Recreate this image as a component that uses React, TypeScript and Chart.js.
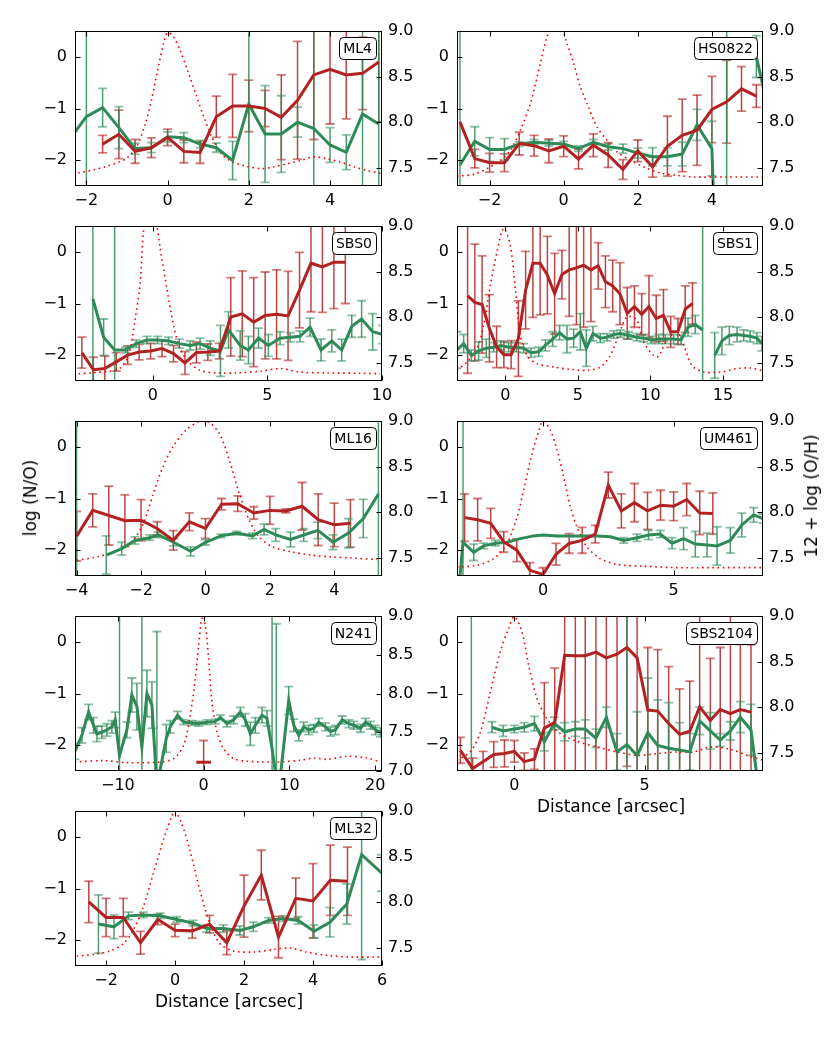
import React, { useEffect, useRef } from 'react';
import { Chart, registerables } from 'chart.js';
Chart.register(...registerables);

const FONT = '"DejaVu Sans", "Liberation Sans", sans-serif';
const RED = '#b22222';
const GREEN = '#2e8b57';
const DOT = '#ff0000';

// ---------- tick labels ----------
const noTicks = [-2, -1, 0];
const ohTicks = [7.5, 8.0, 8.5, 9.0];
const ohTicksN241 = [7.0, 7.5, 8.0, 8.5, 9.0];
const ml4XTicks = [-2, 0, 2, 4];
const hsXTicks = [-2, 0, 2, 4];
const sbs0XTicks = [0, 5, 10];
const sbs1XTicks = [0, 5, 10, 15];
const ml16XTicks = [-4, -2, 0, 2, 4];
const umXTicks = [0, 5];
const n241XTicks = [-10, 0, 10, 20];
const sbs2104XTicks = [0, 5];
const ml32XTicks = [-2, 0, 2, 4, 6];

// ---------- ML4 ----------
const ml4RedX = [-1.6, -1.2, -0.8, -0.4, 0, 0.4, 0.8, 1.2, 1.6, 2.0, 2.4, 2.8, 3.2, 3.6, 4.0, 4.4, 4.8, 5.2];
const ml4RedY = [-1.69, -1.5, -1.83, -1.76, -1.56, -1.83, -1.85, -1.16, -0.95, -0.95, -1.0, -1.17, -0.84, -0.35, -0.24, -0.35, -0.32, -0.1];
const ml4RedErr = [0.17, 0.47, 0.23, 0.19, 0.16, 0.22, 0.21, 0.4, 0.61, 0.5, 0.35, 0.82, 1.14, 1.25, 1.06, 0.85, 0.7, 1.16];
const ml4GreenX = [-2.4, -2.0, -1.6, -1.2, -0.8, -0.4, 0, 0.4, 0.8, 1.2, 1.6, 2.0, 2.4, 2.8, 3.2, 3.6, 4.0, 4.4, 4.8, 5.2];
const ml4GreenY = [7.82, 8.06, 8.16, 7.94, 7.71, 7.72, 7.84, 7.83, 7.76, 7.72, 7.58, 8.2, 7.87, 7.87, 8.0, 7.93, 7.75, 7.67, 8.09, 7.98];
const ml4GreenErr = [0.1, 2, 0.21, 0.23, 0.06, 0.055, 0.055, 0.055, 0.04, 0.05, 0.21, 2, 0.53, 0.42, 0.165, 2, 0.19, 0.19, 2, 2];
const ml4ProfX = [-2.2, -1.8, -1.5, -1.2, -1.0, -0.75, -0.55, -0.4, -0.25, -0.1, 0, 0.15, 0.3, 0.5, 0.7, 0.9, 1.1, 1.35, 1.6, 1.95, 2.3, 2.6, 2.95, 3.3, 3.6, 3.9, 4.25, 4.6, 4.9, 5.25];
const ml4ProfY = [0.084, 0.106, 0.127, 0.155, 0.18, 0.26, 0.4, 0.55, 0.74, 0.92, 0.99, 0.96, 0.88, 0.74, 0.59, 0.44, 0.31, 0.2, 0.155, 0.127, 0.112, 0.123, 0.144, 0.166, 0.188, 0.177, 0.155, 0.123, 0.101, 0.08];

// ---------- HS0822 ----------
const hsRedX = [-2.8, -2.4, -2.0, -1.6, -1.2, -0.8, -0.4, 0, 0.4, 0.8, 1.2, 1.6, 2.0, 2.4, 2.8, 3.2, 3.6, 4.0, 4.4, 4.8, 5.2];
const hsRedY = [-1.26, -1.97, -2.05, -2.05, -1.68, -1.72, -1.82, -1.73, -1.98, -1.71, -1.9, -2.18, -1.82, -2.13, -1.73, -1.52, -1.42, -1.02, -0.87, -0.62, -0.76];
const hsRedErr = [0, 0.18, 0.18, 0.17, 0.22, 0.2, 0.23, 0.2, 0.19, 0.22, 0.24, 0.19, 0.21, 0.2, 0.58, 0.7, 0.68, 0.64, 0.8, 0.43, 0.22];
const hsGreenX = [-2.8, -2.4, -2.0, -1.6, -1.2, -0.8, -0.4, 0, 0.4, 0.8, 1.2, 1.6, 2.0, 2.4, 2.8, 3.2, 3.6, 4.0, 4.4, 4.8, 5.2, 5.6];
const hsGreenY = [7.53, 7.79, 7.7, 7.7, 7.76, 7.78, 7.77, 7.76, 7.71, 7.78, 7.73, 7.71, 7.66, 7.62, 7.62, 7.65, 7.97, 7.71, 3.0, null, 8.72, 8.0];
const hsGreenErr = [2, 0.16, 0.13, 0.12, 0.025, 0.03, 0.03, 0.03, 0.03, 0.03, 0.035, 0.05, 0.055, 0.1, 0.1, 0.13, 0.17, 0.3, 6, 0, 0.23, 0];
const hsProfX = [-2.88, -2.43, -2.07, -1.71, -1.44, -1.17, -0.9, -0.63, -0.45, -0.27, -0.09, 0.09, 0.27, 0.45, 0.63, 0.9, 1.17, 1.44, 1.8, 2.16, 2.61, 3.06, 3.51, 4.41, 5.38];
const hsProfY = [0.063, 0.075, 0.112, 0.166, 0.23, 0.36, 0.532, 0.791, 0.963, 1.05, 1.04, 0.92, 0.79, 0.64, 0.532, 0.381, 0.295, 0.22, 0.166, 0.123, 0.084, 0.069, 0.058, 0.058, 0.058];

// ---------- SBS0 ----------
const sbs0RedX = [-3.1, -2.6, -2.1, -1.6, -1.1, -0.6, -0.1, 0.4, 0.9, 1.4, 1.9, 2.4, 2.9, 3.4, 3.9, 4.4, 4.9, 5.4, 5.9, 6.4, 6.9, 7.4, 7.9, 8.4];
const sbs0RedY = [-1.95, -2.28, -2.26, -2.13, -2.0, -1.94, -1.92, -1.87, -1.97, -2.15, -1.95, -1.94, -1.92, -1.26, -1.2, -1.36, -1.23, -1.21, -1.24, -0.74, -0.22, -0.29, -0.2, -0.2];
const sbs0RedErr = [0.3, 0.24, 0.24, 0.18, 0.18, 0.15, 0.15, 0.16, 0.16, 0.22, 0.2, 0.16, 0.15, 0.76, 0.83, 0.86, 0.84, 0.86, 0.86, 0.73, 0.94, 0.88, 0.9, 0.8];
const sbs0GreenX = [-2.62, -2.15, -1.67, -1.19, -0.73, -0.26, 0.2, 0.68, 1.15, 1.63, 2.06, 2.5, 2.95, 3.3, 3.81, 4.17, 4.61, 5.04, 5.55, 5.99, 6.42, 6.86, 7.34, 7.81, 8.24, 8.68, 9.11, 9.59, 10.03];
const sbs0GreenY = [8.2, 7.78, 7.64, 7.64, 7.71, 7.75, 7.75, 7.74, 7.71, 7.69, 7.71, 7.66, 7.63, 7.86, 7.69, 7.64, 7.77, 7.69, 7.77, 7.78, 7.79, 7.89, 7.64, 7.74, 7.64, 7.9, 7.98, 7.84, 7.81];
const sbs0GreenErr = [2, 0.2, 2, 0.03, 0.04, 0.04, 0.04, 0.04, 0.05, 0.05, 0.06, 0.08, 0.28, 0.2, 0.16, 0.15, 0.11, 0.12, 0.07, 0.05, 0.06, 0.1, 0.12, 0.12, 0.12, 0.12, 0.2, 0.2, 0.1];
const sbs0ProfX = [-3.24, -2.59, -1.86, -1.42, -1.06, -0.77, -0.55, -0.4, -0.15, 0.17, 0.32, 0.61, 0.9, 1.19, 1.56, 2.06, 2.79, 3.66, 4.68, 5.55, 6.42, 7.59, 9.04, 9.91];
const sbs0ProfY = [0.047, 0.054, 0.063, 0.084, 0.166, 0.403, 0.64, 0.98, 1.15, 1.0, 0.855, 0.597, 0.36, 0.209, 0.123, 0.069, 0.052, 0.052, 0.063, 0.08, 0.058, 0.052, 0.05, 0.047];

// ---------- SBS1 ----------
const sbs1RedX = [-2.6, -2.1, -1.6, -1.1, -0.6, -0.1, 0.4, 0.9, 1.4, 1.9, 2.4, 2.9, 3.4, 3.9, 4.4, 4.9, 5.4, 5.9, 6.4, 6.9, 7.4, 7.9, 8.4, 8.9, 9.4, 9.9, 10.4, 10.9, 11.4, 11.9, 12.4, 12.9];
const sbs1RedY = [-0.85, -0.98, -1.02, -1.48, -1.84, -1.99, -1.99, -1.68, -0.74, -0.22, -0.22, -0.45, -0.81, -0.44, -0.35, -0.31, -0.26, -0.35, -0.27, -0.58, -0.66, -0.81, -1.19, -1.06, -1.21, -1.06, -1.29, -1.23, -1.55, -1.54, -1.11, -1.0];
const sbs1RedErr = [1.5, 1.13, 0.94, 0.65, 0.4, 0.25, 0.27, 0.73, 0.75, 1.05, 1.0, 0.75, 0.78, 0.47, 0.9, 1.1, 1.2, 1.0, 0.45, 0.5, 0.5, 0.6, 0.5, 0.4, 0.4, 0.6, 0.45, 0.5, 0.3, 0.25, 0.45, 0.4];
const sbs1GreenX = [-3.33, -2.87, -2.34, -1.84, -1.31, -0.8, -0.3, 0.23, 0.76, 1.26, 1.77, 2.3, 2.76, 3.26, 3.74, 4.25, 4.71, 5.17, 5.58, 6.04, 6.55, 7.01, 7.47, 7.93, 8.5, 9.07, 9.53, 10.04, 10.57, 11.03, 11.6, 12.11, 12.59, 13.09, 13.6, 14.0, 14.43, 14.93, 15.44, 15.97, 16.43, 16.88, 17.34, 17.69];
const sbs1GreenY = [7.64, 7.71, 7.58, 7.63, 7.66, 7.67, 7.69, 7.67, 7.67, 7.66, 7.61, 7.62, 7.69, 7.76, 7.83, 7.76, 7.77, 7.84, 7.66, 7.82, 7.77, 7.78, 7.81, 7.82, 7.8, 7.78, 7.77, 7.75, 7.76, 7.76, 7.76, 7.75, 7.89, 7.92, 7.86, null, 7.58, 7.74, 7.8, 7.81, 7.8, 7.79, 7.77, 7.71];
const sbs1GreenErr = [0.2, 0.1, 0.06, 0.1, 0.1, 0.05, 0.05, 0.05, 0.05, 0.05, 0.05, 0.05, 0.06, 0.08, 0.08, 0.15, 0.1, 0.2, 0.2, 0.08, 0.05, 0.04, 0.04, 0.04, 0.04, 0.04, 0.04, 0.04, 0.05, 0.05, 0.05, 0.05, 0.1, 0.1, 3, 0, 0.25, 0.15, 0.1, 0.08, 0.06, 0.06, 0.06, 0.08];
const sbs1ProfX = [-3.33, -2.64, -1.95, -1.49, -1.03, -0.57, -0.11, 0.34, 0.69, 1.03, 1.49, 2.18, 3.33, 4.48, 5.63, 6.55, 7.24, 7.81, 8.39, 9.07, 9.53, 10.45, 11.14, 11.83, 12.29, 12.86, 13.67, 14.82, 15.97, 16.88, 17.76];
const sbs1ProfY = [0.069, 0.123, 0.209, 0.36, 0.619, 0.834, 0.985, 0.877, 0.597, 0.295, 0.166, 0.112, 0.09, 0.075, 0.069, 0.09, 0.166, 0.295, 0.414, 0.392, 0.252, 0.155, 0.263, 0.317, 0.231, 0.101, 0.058, 0.058, 0.08, 0.084, 0.065];

// ---------- ML16 ----------
const ml16RedX = [-4, -3.5, -3, -2.5, -2, -1.5, -1, -0.5, 0, 0.5, 1, 1.5, 2, 2.5, 3, 3.5, 4, 4.5];
const ml16RedY = [-1.73, -1.23, -1.33, -1.43, -1.42, -1.58, -1.81, -1.45, -1.58, -1.11, -1.1, -1.28, -1.23, -1.24, -1.15, -1.41, -1.51, -1.48];
const ml16RedErr = [0.48, 0.32, 0.57, 0.5, 0.4, 0.13, 0.19, 0.17, 0.19, 0.11, 0.15, 0.12, 0.27, 0.04, 0.46, 0.5, 0.42, 0.46];
const ml16GreenX = [-4.0, -3.5, -3.08, -2.6, -2.19, -1.73, -1.47, -0.99, -0.46, 0, 0.48, 0.97, 1.46, 1.82, 2.18, 2.64, 3.05, 3.49, 3.96, 4.44, 4.9, 5.37];
const ml16GreenY = [5.0, null, 7.53, 7.6, 7.69, 7.72, 7.75, 7.67, 7.57, 7.67, 7.74, 7.77, 7.74, 7.81, 7.75, 7.7, 7.75, 7.8, 7.67, 7.77, 7.93, 8.2];
const ml16GreenErr = [4, 0, 0.21, 0.07, 0.04, 0.03, 0.03, 0.04, 0.05, 0.03, 0.02, 0.02, 0.03, 0.06, 0.07, 0.08, 0.07, 0.09, 0.08, 0.16, 0.21, 2];
const ml16ProfX = [-3.99, -3.37, -2.86, -2.34, -1.93, -1.62, -1.32, -1.01, -0.6, -0.19, 0.12, 0.43, 0.74, 1.05, 1.36, 1.67, 2.08, 2.69, 3.31, 3.93, 4.54, 5.32];
const ml16ProfY = [0.101, 0.123, 0.155, 0.209, 0.338, 0.532, 0.705, 0.834, 0.942, 0.996, 0.989, 0.92, 0.748, 0.532, 0.36, 0.252, 0.188, 0.155, 0.134, 0.123, 0.116, 0.106];

// ---------- UM461 ----------
const umRedX = [-3, -2.5, -2, -1.5, -1, -0.5, 0, 0.5, 1, 1.5, 2, 2.5, 3, 3.5, 4, 4.5, 5, 5.5, 6, 6.5];
const umRedY = [-1.37, -1.41, -1.48, -1.84, -2.0, -2.39, -2.47, -2.08, -1.87, -1.81, -1.69, -0.74, -1.24, -1.08, -1.24, -1.13, -1.15, -1.02, -1.28, -1.29];
const umRedErr = [0.46, 0.41, 0.29, 0.2, 0.22, 0.15, 0.13, 0.21, 0.19, 0.25, 0.17, 0.25, 0.33, 0.37, 0.36, 0.29, 0.28, 0.31, 0.42, 0.4];
const umGreenX = [-3.3, -3.06, -2.65, -2.27, -1.82, -1.38, -0.87, -0.36, 0, 0.54, 1.05, 1.56, 2.07, 2.58, 3.09, 3.6, 4.04, 4.49, 4.94, 5.38, 5.83, 6.28, 6.66, 7.17, 7.61, 8.06, 8.42];
const umGreenY = [6.9, 7.67, 7.56, 7.63, 7.66, 7.67, 7.71, 7.74, 7.75, 7.74, 7.74, 7.74, 7.74, 7.73, 7.69, 7.72, 7.75, 7.76, 7.66, 7.71, 7.65, 7.64, 7.63, 7.69, 7.86, 7.97, 7.93];
const umGreenErr = [0, 2, 0.09, 0.03, 0.03, 0, 0, 0, 0, 0, 0, 0, 0, 0, 0.03, 0.04, 0.05, 0.04, 0.06, 0.12, 0.14, 0.13, 0.21, 0.14, 0.13, 0.08, 0.05];
const umProfX = [-3.29, -2.53, -1.89, -1.38, -0.99, -0.74, -0.48, -0.23, 0, 0.28, 0.54, 0.79, 1.05, 1.3, 1.68, 2.19, 2.83, 3.85, 5.13, 6.4, 8.42];
const umProfY = [0.058, 0.069, 0.112, 0.209, 0.381, 0.554, 0.748, 0.899, 1.0, 0.942, 0.812, 0.64, 0.446, 0.317, 0.188, 0.112, 0.075, 0.063, 0.054, 0.054, 0.054];

// ---------- N241 ----------
const n241RedX = [-0.85, 0, 0.85];
const n241RedY = [-2.33, -2.33, -2.33];
const n241RedErr = [0, 0.42, 0];
const n241GreenX = [-15.02, -14.2, -13.42, -12.84, -12.45, -11.87, -11.28, -10.7, -10.31, -9.81, -8.95, -8.37, -7.78, -7.2, -6.61, -6.03, -5.45, -4.36, -3.89, -3.04, -2.33, -1.36, -0.58, 0.39, 1.36, 1.95, 2.72, 3.5, 4.28, 4.86, 5.45, 6.03, 6.81, 7.39, 7.98, 8.48, 8.95, 9.92, 10.51, 11.09, 11.67, 12.26, 12.84, 13.42, 14.2, 14.79, 15.37, 16.15, 16.93, 17.51, 18.29, 18.87, 19.46, 20.04, 20.62];
const n241GreenY = [7.25, 7.46, 7.76, 7.59, 7.48, 7.5, 7.53, 7.57, 7.66, 7.2, 7.53, 7.98, 7.83, 7.31, 8.0, 7.85, 6.8, 7.42, 7.57, 7.72, 7.63, 7.62, 7.61, 7.63, 7.64, 7.69, 7.61, 7.66, 7.76, 7.66, 7.48, 7.59, 7.72, 7.68, 7.29, 6.9, 6.94, 7.91, 7.59, 7.46, 7.57, 7.53, 7.55, 7.63, 7.57, 7.51, 7.53, 7.66, 7.61, 7.59, 7.55, 7.63, 7.59, 7.53, 7.5];
const n241GreenErr = [0.1, 0.1, 0.1, 0.1, 0.1, 0.08, 0.08, 0.08, 0.1, 2, 0.1, 0.22, 0.3, 2, 0.3, 0.3, 2, 0.18, 0.08, 0.05, 0.03, 0.03, 0.03, 0.03, 0.03, 0.03, 0.04, 0.05, 0.06, 0.08, 0.15, 0.1, 0.1, 0.1, 2, 2, 0, 0.18, 0.08, 0.07, 0.06, 0.06, 0.05, 0.05, 0.05, 0.06, 0.06, 0.05, 0.05, 0.05, 0.05, 0.05, 0.05, 0.06, 0.06];
const n241ProfX = [-15.02, -11.67, -8.95, -5.06, -3.5, -2.33, -1.56, -0.97, -0.58, -0.19, 0.19, 0.58, 0.97, 1.56, 2.33, 3.5, 5.06, 8.56, 11.28, 12.84, 14.4, 16.73, 19.07, 20.62];
const n241ProfY = [0.058, 0.067, 0.054, 0.058, 0.08, 0.166, 0.36, 0.597, 0.812, 0.985, 0.942, 0.726, 0.446, 0.252, 0.144, 0.08, 0.063, 0.058, 0.069, 0.084, 0.075, 0.095, 0.084, 0.058];

// ---------- SBS2104 ----------
const sbs2104RedX = [-2.07, -1.6, -1.2, -0.79, -0.38, 0, 0.38, 0.77, 1.15, 1.55, 1.93, 2.34, 2.72, 3.13, 3.53, 3.94, 4.32, 4.71, 5.12, 5.5, 5.92, 6.34, 6.73, 7.11, 7.52, 7.9, 8.29, 8.67, 9.08];
const sbs2104RedY = [-2.1, -2.45, -2.32, -2.18, -2.16, -2.12, -2.32, -2.27, -1.67, -1.56, -0.26, -0.27, -0.27, -0.2, -0.31, -0.24, -0.11, -0.31, -1.32, -1.34, -1.58, -1.79, -1.73, -1.26, -1.52, -1.31, -1.39, -1.31, -1.36];
const sbs2104RedErr = [0.25, 0.2, 0.2, 0.25, 0.26, 0.21, 0.17, 0.2, 0.88, 1.05, 2.3, 2.3, 2.3, 2.3, 2.3, 2.3, 2.3, 2.3, 1.21, 1.19, 1.1, 0.88, 0.97, 1.8, 1.2, 1.2, 1.9, 1.26, 1.3];
const sbs2104GreenX = [-1.65, -1.25, -0.86, -0.43, 0, 0.38, 0.77, 1.15, 1.53, 1.93, 2.34, 2.72, 3.13, 3.53, 3.94, 4.32, 4.71, 5.12, 5.5, 5.92, 6.34, 6.73, 7.11, 7.52, 7.9, 8.29, 8.67, 9.08, 9.37];
const sbs2104GreenY = [5.0, null, 7.78, 7.74, 7.76, 7.78, 7.82, 7.62, 7.82, 7.73, 7.76, 7.76, 7.66, 7.89, 7.51, 7.59, 7.47, 7.72, 7.58, 7.55, 7.53, 7.51, 7.85, 7.74, 7.64, 7.74, 7.89, 7.75, 7.1];
const sbs2104GreenErr = [4, 0, 0.06, 0.06, 0.04, 0.05, 0.08, 0.1, 0.07, 0.1, 0.08, 0.1, 0.1, 0.11, 0.2, 2, 0.48, 0.6, 0.5, 0.5, 0.3, 0.2, 0.15, 0.2, 0.07, 0.1, 0.17, 0.28, 0];
const sbs2104ProfX = [-2.2, -1.69, -1.3, -0.92, -0.54, -0.22, 0, 0.29, 0.55, 0.87, 1.25, 1.76, 2.4, 3.17, 3.94, 4.71, 5.47, 6.24, 6.88, 7.52, 8.29, 8.93, 9.54];
const sbs2104ProfY = [0.069, 0.123, 0.252, 0.511, 0.769, 0.92, 0.996, 0.899, 0.683, 0.468, 0.338, 0.241, 0.192, 0.155, 0.123, 0.101, 0.112, 0.123, 0.123, 0.155, 0.14, 0.101, 0.069];

// ---------- ML32 ----------
const ml32RedX = [-2.5, -2, -1.5, -1, -0.5, 0, 0.5, 1, 1.5, 2, 2.5, 3, 3.5, 4, 4.5, 5];
const ml32RedY = [-1.26, -1.56, -1.56, -2.05, -1.6, -1.81, -1.82, -1.69, -2.05, -1.34, -0.74, -1.94, -1.19, -1.24, -0.84, -0.86];
const ml32RedErr = [0.4, 0.37, 0.37, 0.22, 0.1, 0.12, 0.14, 0.17, 0.23, 0.6, 0.48, 0.4, 0.39, 0.72, 0.68, 0.66];
const ml32GreenX = [-2.22, -1.77, -1.35, -0.92, -0.43, 0.05, 0.53, 0.92, 1.4, 1.88, 2.27, 2.71, 3.14, 3.57, 4.03, 4.49, 4.98, 5.41, 5.99];
const ml32GreenY = [7.76, 7.73, 7.85, 7.86, 7.85, 7.81, 7.77, 7.71, 7.71, 7.69, 7.73, 7.8, 7.82, 7.8, 7.68, 7.78, 7.98, 8.52, 8.32];
const ml32GreenErr = [0.32, 0.13, 0.04, 0.03, 0.03, 0.03, 0.03, 0.04, 0.04, 0.05, 0.05, 0.03, 0.03, 0.04, 0.07, 0.16, 0.22, 1.15, 0.2];
const ml32ProfX = [-2.85, -2.37, -1.88, -1.5, -1.21, -0.92, -0.63, -0.34, -0.1, 0, 0.19, 0.43, 0.72, 1.01, 1.3, 1.69, 2.27, 2.85, 3.33, 3.82, 4.4, 5.07, 5.99];
const ml32ProfY = [0.063, 0.075, 0.097, 0.144, 0.231, 0.381, 0.597, 0.812, 0.963, 1.0, 0.92, 0.748, 0.489, 0.274, 0.144, 0.097, 0.09, 0.106, 0.116, 0.09, 0.069, 0.058, 0.058];

// ---------- layout ----------
const PLOT_H = 155;
const PAD_L = 52, PAD_R = 52, PAD_T = 12, PAD_B = 28;

type Series = [number[], (number | null)[], number[]];
type PanelDef = {
  name: string; left: number; top: number; width: number;
  xMin: number; xMax: number; xTicks: number[];
  rMin: number; rTicks: number[];
  red: Series; green: Series; prof: [number[], number[]];
};

const panels: PanelDef[] = [
  { name: 'ML4', left: 75, top: 31, width: 307, xMin: -2.28, xMax: 5.28, xTicks: ml4XTicks, rMin: 7.3, rTicks: ohTicks,
    red: [ml4RedX, ml4RedY, ml4RedErr], green: [ml4GreenX, ml4GreenY, ml4GreenErr], prof: [ml4ProfX, ml4ProfY] },
  { name: 'HS0822', left: 457, top: 31, width: 306, xMin: -2.88, xMax: 5.38, xTicks: hsXTicks, rMin: 7.3, rTicks: ohTicks,
    red: [hsRedX, hsRedY, hsRedErr], green: [hsGreenX, hsGreenY, hsGreenErr], prof: [hsProfX, hsProfY] },
  { name: 'SBS0', left: 75, top: 226, width: 307, xMin: -3.4, xMax: 10.0, xTicks: sbs0XTicks, rMin: 7.3, rTicks: ohTicks,
    red: [sbs0RedX, sbs0RedY, sbs0RedErr], green: [sbs0GreenX, sbs0GreenY, sbs0GreenErr], prof: [sbs0ProfX, sbs0ProfY] },
  { name: 'SBS1', left: 457, top: 226, width: 306, xMin: -3.33, xMax: 17.76, xTicks: sbs1XTicks, rMin: 7.3, rTicks: ohTicks,
    red: [sbs1RedX, sbs1RedY, sbs1RedErr], green: [sbs1GreenX, sbs1GreenY, sbs1GreenErr], prof: [sbs1ProfX, sbs1ProfY] },
  { name: 'ML16', left: 75, top: 421, width: 307, xMin: -4.05, xMax: 5.48, xTicks: ml16XTicks, rMin: 7.3, rTicks: ohTicks,
    red: [ml16RedX, ml16RedY, ml16RedErr], green: [ml16GreenX, ml16GreenY, ml16GreenErr], prof: [ml16ProfX, ml16ProfY] },
  { name: 'UM461', left: 457, top: 421, width: 306, xMin: -3.29, xMax: 8.42, xTicks: umXTicks, rMin: 7.3, rTicks: ohTicks,
    red: [umRedX, umRedY, umRedErr], green: [umGreenX, umGreenY, umGreenErr], prof: [umProfX, umProfY] },
  { name: 'N241', left: 75, top: 616, width: 307, xMin: -15.0, xMax: 20.8, xTicks: n241XTicks, rMin: 7.0, rTicks: ohTicksN241,
    red: [n241RedX, n241RedY, n241RedErr], green: [n241GreenX, n241GreenY, n241GreenErr], prof: [n241ProfX, n241ProfY] },
  { name: 'SBS2104', left: 457, top: 616, width: 306, xMin: -2.2, xMax: 9.54, xTicks: sbs2104XTicks, rMin: 7.3, rTicks: ohTicks,
    red: [sbs2104RedX, sbs2104RedY, sbs2104RedErr], green: [sbs2104GreenX, sbs2104GreenY, sbs2104GreenErr], prof: [sbs2104ProfX, sbs2104ProfY] },
  { name: 'ML32', left: 75, top: 811, width: 307, xMin: -2.9, xMax: 6.0, xTicks: ml32XTicks, rMin: 7.3, rTicks: ohTicks,
    red: [ml32RedX, ml32RedY, ml32RedErr], green: [ml32GreenX, ml32GreenY, ml32GreenErr], prof: [ml32ProfX, ml32ProfY] },
];

const toPts = (xs: number[], ys: (number | null)[]) => xs.map((x, i) => ({ x, y: ys[i] }));
const fmtSigned = (v: number) => (v < 0 ? '\u2212' + Math.abs(v) : String(v));

const errorBarPlugin = {
  id: 'errorBars',
  beforeDatasetsDraw(chart: any) {
    const { ctx, chartArea: a } = chart;
    ctx.save();
    ctx.beginPath();
    ctx.rect(a.left, a.top, a.right - a.left, a.bottom - a.top);
    ctx.clip();
    const xs = chart.scales.x;
    chart.data.datasets.forEach((ds: any) => {
      const errs: number[] | undefined = ds.errorBars;
      if (!errs) return;
      const ys = chart.scales[ds.yAxisID];
      ds.data.forEach((p: any, i: number) => {
        const e = errs[i];
        if (!e || p.y === null || p.y === undefined) return;
        const px = xs.getPixelForValue(p.x);
        const t = ys.getPixelForValue(p.y + e);
        const b = ys.getPixelForValue(p.y - e);
        ctx.strokeStyle = ds.errColor;
        ctx.lineWidth = 1.5;
        ctx.beginPath();
        ctx.moveTo(px, t);
        ctx.lineTo(px, b);
        ctx.stroke();
        ctx.strokeStyle = ds.capColor;
        ctx.lineWidth = 1.8;
        ctx.beginPath();
        ctx.moveTo(px - 4.5, t);
        ctx.lineTo(px + 4.5, t);
        ctx.moveTo(px - 4.5, b);
        ctx.lineTo(px + 4.5, b);
        ctx.stroke();
      });
    });
    ctx.restore();
  },
};

function makeFramePlugin(label: string) {
  return {
    id: 'frame',
    afterDatasetsDraw(chart: any) {
      const { ctx, chartArea: a } = chart;
      ctx.save();
      ctx.strokeStyle = '#000';
      ctx.lineWidth = 1;
      const L = Math.round(a.left) + 0.5, R = Math.round(a.right) - 0.5;
      const T = Math.round(a.top) + 0.5, B = Math.round(a.bottom) - 0.5;
      ctx.strokeRect(L, T, R - L, B - T);
      const tl = 5;
      ctx.beginPath();
      chart.scales.x.ticks.forEach((t: any) => {
        const px = Math.round(chart.scales.x.getPixelForValue(t.value)) + 0.5;
        ctx.moveTo(px, B); ctx.lineTo(px, B - tl);
        ctx.moveTo(px, T); ctx.lineTo(px, T + tl);
      });
      chart.scales.y.ticks.forEach((t: any) => {
        const py = Math.round(chart.scales.y.getPixelForValue(t.value)) + 0.5;
        ctx.moveTo(L, py); ctx.lineTo(L + tl, py);
      });
      chart.scales.y2.ticks.forEach((t: any) => {
        const py = Math.round(chart.scales.y2.getPixelForValue(t.value)) + 0.5;
        ctx.moveTo(R, py); ctx.lineTo(R - tl, py);
      });
      ctx.stroke();
      // label box
      ctx.font = '14px ' + FONT;
      const tw = ctx.measureText(label).width;
      const bw = tw + 8, bh = 22;
      const bx = a.right - 6 - bw, by = a.top + 6;
      ctx.beginPath();
      (ctx as any).roundRect(Math.round(bx) + 0.5, Math.round(by) + 0.5, Math.round(bw), bh, 4);
      ctx.fillStyle = '#fff';
      ctx.fill();
      ctx.strokeStyle = '#000';
      ctx.lineWidth = 1;
      ctx.stroke();
      ctx.fillStyle = '#000';
      ctx.textAlign = 'center';
      ctx.textBaseline = 'middle';
      ctx.fillText(label, bx + bw / 2, by + bh / 2 + 1);
      ctx.restore();
    },
  };
}

function Panel({ p }: { p: PanelDef }) {
  const ref = useRef<HTMLCanvasElement>(null);
  const W = p.width + PAD_L + PAD_R;
  const H = PLOT_H + PAD_T + PAD_B;
  useEffect(() => {
    if (!ref.current) return;
    const tickFont = { family: FONT, size: 16 };
    const chart = new Chart(ref.current, {
      type: 'line',
      data: {
        datasets: [
          {
            data: toPts(p.red[0], p.red[1]), yAxisID: 'y', borderColor: RED, borderWidth: 3,
            pointRadius: 0, tension: 0, order: 0, clip: 0, spanGaps: false,
            errorBars: p.red[2], errColor: 'rgba(178,34,34,0.85)', capColor: 'rgba(178,34,34,0.6)',
          } as any,
          {
            data: toPts(p.green[0], p.green[1]), yAxisID: 'y2', borderColor: GREEN, borderWidth: 3,
            pointRadius: 0, tension: 0, order: 1, clip: 0, spanGaps: false,
            errorBars: p.green[2], errColor: 'rgba(46,139,87,0.85)', capColor: 'rgba(46,139,87,0.55)',
          } as any,
          {
            data: toPts(p.prof[0], p.prof[1]), yAxisID: 'yp', borderColor: DOT, borderWidth: 1.6,
            borderDash: [1.6, 3.6], pointRadius: 0, tension: 0.3, order: 2, clip: 0,
          } as any,
        ],
      },
      options: {
        animation: false,
        responsive: false,
        events: [],
        layout: { padding: { top: PAD_T, left: 0, right: 0, bottom: 0 } },
        plugins: { legend: { display: false }, tooltip: { enabled: false } },
        scales: {
          x: {
            type: 'linear', position: 'bottom', min: p.xMin, max: p.xMax,
            grid: { display: false, drawTicks: false }, border: { display: false },
            ticks: { font: tickFont, color: '#000', padding: 5, maxRotation: 0, autoSkip: false, callback: (v: any) => fmtSigned(Number(v)) },
            afterBuildTicks: (s: any) => { s.ticks = p.xTicks.map((v) => ({ value: v })); },
            afterFit: (s: any) => { s.height = PAD_B; s.paddingLeft = 0; s.paddingRight = 0; },
          },
          y: {
            type: 'linear', position: 'left', min: -2.5, max: 0.5,
            grid: { display: false, drawTicks: false }, border: { display: false },
            ticks: { font: tickFont, color: '#000', padding: 8, callback: (v: any) => fmtSigned(Number(v)) },
            afterBuildTicks: (s: any) => { s.ticks = noTicks.map((v) => ({ value: v })); },
            afterFit: (s: any) => { s.width = PAD_L; s.paddingTop = 0; s.paddingBottom = 0; },
          },
          y2: {
            type: 'linear', position: 'right', min: p.rMin, max: 9.0,
            grid: { display: false, drawTicks: false }, border: { display: false },
            ticks: { font: tickFont, color: '#000', padding: 6, callback: (v: any) => Number(v).toFixed(1) },
            afterBuildTicks: (s: any) => { s.ticks = p.rTicks.map((v) => ({ value: v })); },
            afterFit: (s: any) => { s.width = PAD_R; s.paddingTop = 0; s.paddingBottom = 0; },
          },
          yp: { type: 'linear', display: false, min: 0, max: 1 },
        },
      } as any,
      plugins: [errorBarPlugin, makeFramePlugin(p.name)] as any,
    });
    return () => chart.destroy();
  }, [p]);
  return (
    <canvas
      ref={ref}
      width={W}
      height={H}
      style={{ position: 'absolute', left: p.left - PAD_L, top: p.top - PAD_T, width: W, height: H }}
    />
  );
}

const textStyle: React.CSSProperties = {
  position: 'absolute', fontFamily: FONT, fontSize: 17, color: '#000', whiteSpace: 'nowrap', lineHeight: '20px',
};

export default function App() {
  return (
    <div style={{ position: 'absolute', left: 0, top: 0, width: 830, height: 1038, background: '#fff' }}>
      {panels.map((p) => (
        <Panel key={p.name} p={p} />
      ))}
      <div style={{ ...textStyle, left: 30, top: 498, transform: 'translate(-50%, -50%) rotate(-90deg)' }}>log (N/O)</div>
      <div style={{ ...textStyle, left: 811, top: 496, transform: 'translate(-50%, -50%) rotate(-90deg)' }}>12 + log (O/H)</div>
      <div style={{ ...textStyle, left: 611, top: 806, transform: 'translate(-50%, -50%)' }}>Distance [arcsec]</div>
      <div style={{ ...textStyle, left: 229, top: 1001, transform: 'translate(-50%, -50%)' }}>Distance [arcsec]</div>
    </div>
  );
}
